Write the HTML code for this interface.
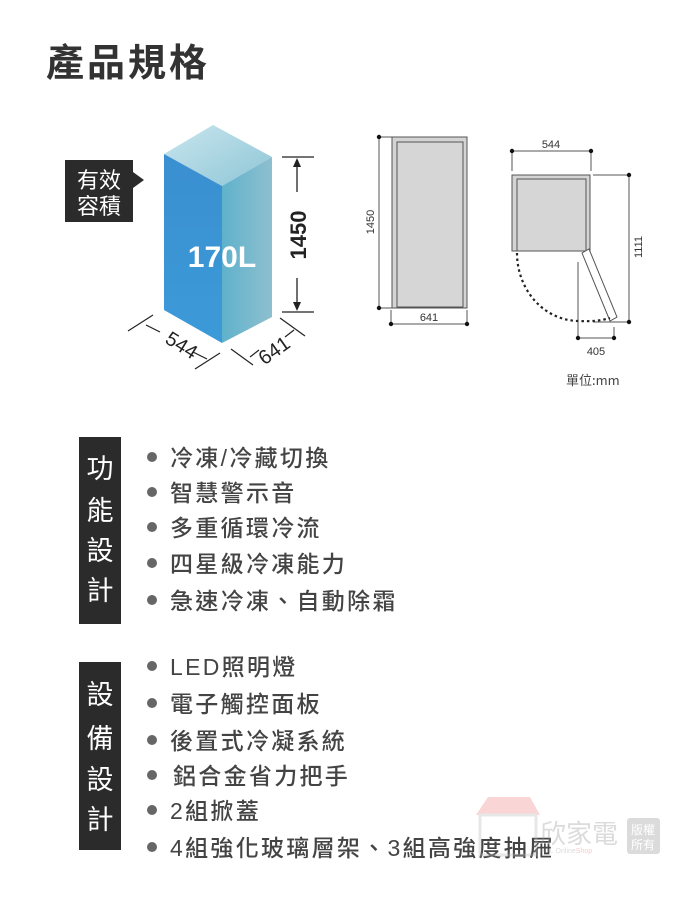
<!DOCTYPE html>
<html><head><meta charset="utf-8"><style>
html,body{margin:0;padding:0;background:#fff;}
svg{display:block;}
text{font-family:"Liberation Sans","Noto Sans CJK TC",sans-serif;}
.cj{font-family:"Noto Sans CJK TC","Liberation Sans",sans-serif;}
</style></head><body>
<svg width="700" height="897" viewBox="0 0 700 897" xmlns="http://www.w3.org/2000/svg">
<defs>
<linearGradient id="top" x1="0" y1="0" x2="1" y2="1"><stop offset="0" stop-color="#c9e6ee"/><stop offset="1" stop-color="#8ec5d6"/></linearGradient>
<linearGradient id="rt" x1="0" y1="0" x2="1" y2="0"><stop offset="0" stop-color="#5fb2cc"/><stop offset="1" stop-color="#8ebfcf"/></linearGradient>
<linearGradient id="ft" x1="0" y1="0" x2="0" y2="1"><stop offset="0" stop-color="#3a8fd0"/><stop offset="1" stop-color="#3c9ad8"/></linearGradient>
</defs>
<text x="46" y="76" class="cj" font-size="38" font-weight="bold" fill="#333" letter-spacing="3">產品規格</text>

<rect x="65" y="160" width="68" height="62" fill="#2b2b2b"/>
<polygon points="133,172 144,180 133,188" fill="#2b2b2b"/>
<text x="99" y="188" class="cj" font-size="22" fill="#fff" text-anchor="middle">有效</text>
<text x="99" y="214" class="cj" font-size="22" fill="#fff" text-anchor="middle">容積</text>

<polygon points="164,154 213,125 272,157 222,186" fill="url(#top)"/>
<polygon points="222,186 272,157 272,317 222,343" fill="url(#rt)"/>
<polygon points="164,154 222,186 222,343 164,310" fill="url(#ft)"/>
<text x="222" y="267" font-size="30" font-weight="bold" fill="#fff" text-anchor="middle">170L</text>

<g stroke="#222" stroke-width="1.3">
<line x1="282" y1="157" x2="314" y2="157"/><line x1="282" y1="312" x2="314" y2="312"/>
<line x1="297" y1="160" x2="297" y2="192"/><line x1="297" y1="278" x2="297" y2="309"/>
</g>
<polygon points="297,158 293,167 301,167" fill="#222"/>
<polygon points="297,311 293,302 301,302" fill="#222"/>
<text transform="translate(306,235) rotate(-90)" font-size="22" font-weight="bold" fill="#222" text-anchor="middle">1450</text>

<g stroke="#222" stroke-width="1.2">
<line x1="128" y1="331" x2="153" y2="315"/>
<line x1="195" y1="369" x2="220" y2="353"/>
<line x1="146" y1="325" x2="160" y2="332"/>
<line x1="193" y1="352" x2="207" y2="359"/>
<line x1="231" y1="349" x2="253" y2="365"/>
<line x1="280" y1="318" x2="305" y2="336"/>
<line x1="250" y1="357" x2="259" y2="350"/>
<line x1="285" y1="337" x2="294" y2="330"/>
</g>
<text transform="translate(178,351) rotate(32)" font-size="20" fill="#222" text-anchor="middle">544</text>
<text transform="translate(278,356) rotate(-35)" font-size="20" fill="#222" text-anchor="middle">641</text>

<g stroke="#555" fill="none" stroke-width="1">
<rect x="392" y="137" width="75" height="171" fill="#d4d4d4"/>
<rect x="397" y="142" width="66" height="165" fill="#d6d6d6"/>
<line x1="379" y1="137" x2="379" y2="308"/>
<line x1="379" y1="137" x2="392" y2="137"/><line x1="379" y1="308" x2="392" y2="308"/>
<line x1="391" y1="324" x2="467" y2="324"/>
<line x1="391" y1="310" x2="391" y2="324"/><line x1="467" y1="310" x2="467" y2="324"/>
</g>
<g fill="#111"><circle cx="379" cy="137" r="2.2"/><circle cx="379" cy="308" r="2.2"/><circle cx="391" cy="324" r="2.2"/><circle cx="467" cy="324" r="2.2"/></g>
<text transform="translate(374,222) rotate(-90)" font-size="11" fill="#333" text-anchor="middle">1450</text>
<text x="429" y="321" font-size="11" fill="#333" text-anchor="middle">641</text>

<g stroke="#555" fill="none" stroke-width="1">
<rect x="512" y="175" width="78" height="76" fill="#d4d4d4"/>
<rect x="517" y="179" width="69" height="72" fill="#d6d6d6"/>
<line x1="512" y1="151" x2="591" y2="151"/>
<line x1="512" y1="151" x2="512" y2="171"/><line x1="591" y1="151" x2="591" y2="171"/>
<line x1="593" y1="175" x2="629" y2="175"/>
<line x1="629" y1="175" x2="629" y2="322"/>
<line x1="593" y1="322" x2="629" y2="322"/>
<line x1="578" y1="262" x2="578" y2="338"/>
<line x1="578" y1="338" x2="614" y2="338"/>
<line x1="614" y1="327" x2="614" y2="338"/>
<polygon points="582,253 589,249 617,317 610,321" fill="#fff"/>
</g>
<path d="M517,253 A62,68 0 0 0 579,321 Q597,322 610,318" stroke="#222" stroke-width="2.2" fill="none" stroke-dasharray="2.5,3"/>
<g fill="#111"><circle cx="512" cy="151" r="2.2"/><circle cx="591" cy="151" r="2.2"/><circle cx="629" cy="175" r="2.2"/><circle cx="629" cy="322" r="2.2"/><circle cx="578" cy="338" r="2.2"/><circle cx="614" cy="338" r="2.2"/></g>
<text x="551" y="148" font-size="11" fill="#333" text-anchor="middle">544</text>
<text transform="translate(642,247) rotate(-90)" font-size="11" fill="#333" text-anchor="middle">1111</text>
<text x="596" y="355" font-size="11" fill="#333" text-anchor="middle">405</text>
<text x="566" y="385" class="cj" font-size="13" fill="#444">單位:mm</text>

<rect x="79" y="437" width="42" height="187" fill="#2b2b2b"/>
<g class="cj" font-size="27" fill="#fff" text-anchor="middle">
<text x="100" y="478">功</text><text x="100" y="520">能</text><text x="100" y="560">設</text><text x="100" y="600">計</text>
</g>
<g fill="#666"><circle cx="152" cy="457" r="5"/><circle cx="152" cy="492" r="5"/><circle cx="152" cy="527" r="5"/><circle cx="152" cy="563" r="5"/><circle cx="152" cy="600" r="5"/></g>
<g class="cj" font-size="23" font-weight="500" fill="#444" letter-spacing="2.3">
<text x="170" y="466">冷凍/冷藏切換</text>
<text x="170" y="501">智慧警示音</text>
<text x="170" y="536">多重循環冷流</text>
<text x="170" y="572">四星級冷凍能力</text>
<text x="170" y="609">急速冷凍、自動除霜</text>
</g>

<rect x="79" y="662" width="42" height="188" fill="#2b2b2b"/>
<g class="cj" font-size="27" fill="#fff" text-anchor="middle">
<text x="100" y="704">設</text><text x="100" y="748">備</text><text x="100" y="789">設</text><text x="100" y="829">計</text>
</g>
<g fill="#666"><circle cx="152" cy="666" r="5"/><circle cx="152" cy="703" r="5"/><circle cx="152" cy="740" r="5"/><circle cx="152" cy="775" r="5"/><circle cx="152" cy="810" r="5"/><circle cx="152" cy="847" r="5"/></g>
<g class="cj" font-size="23" font-weight="500" fill="#444" letter-spacing="2.3">
<text x="170" y="675">LED照明燈</text>
<text x="170" y="712">電子觸控面板</text>
<text x="170" y="749">後置式冷凝系統</text>
<text x="173" y="784">鋁合金省力把手</text>
<text x="170" y="819">2組掀蓋</text>
<text x="170" y="856">4組強化玻璃層架、3組高強度抽屜</text>
</g>

<g opacity="0.35">
<path d="M476,815 L488,797 L530,797 L540,815 Z" fill="#e88"/>
<rect x="480" y="815" width="56" height="40" fill="none" stroke="#bbb" stroke-width="3"/>
<text x="540" y="843" class="cj" font-size="26" fill="#999">欣家電</text>
<text x="540" y="853" font-size="7" fill="#999">H.A. Online<tspan fill="#e66">Shop</tspan></text>
<rect x="627" y="818" width="33" height="36" rx="3" fill="#999"/>
<text x="643" y="834" class="cj" font-size="12" fill="#fff" text-anchor="middle">版權</text>
<text x="643" y="849" class="cj" font-size="12" fill="#fff" text-anchor="middle">所有</text>
</g>
</svg>
</body></html>
